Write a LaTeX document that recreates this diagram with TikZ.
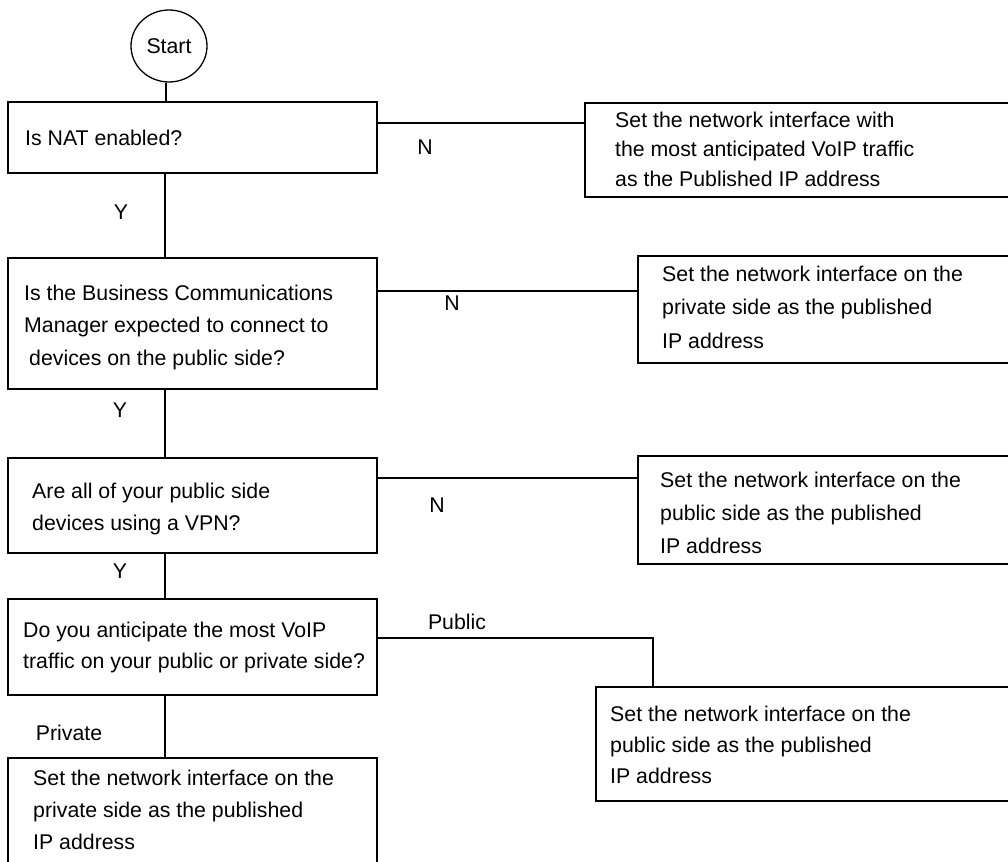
\documentclass[tikz,border=0pt]{standalone}
\usepackage{fontspec}
\setmainfont{Liberation Sans}
\usetikzlibrary{shapes.geometric}
\begin{document}
\begin{tikzpicture}[x=1pt,y=-1pt,
  box/.style={draw, line width=2.3pt, rectangle, inner sep=0pt},
  txt/.style={anchor=west, align=left, inner sep=0pt, font=\fontsize{21.3}{32}\selectfont},
  lbl/.style={inner sep=0pt, font=\fontsize{21.3}{25}\selectfont},
  link/.style={line width=2.3pt}]
\useasboundingbox (0,0) rectangle (1008,861);
\clip (0,0) rectangle (1008,861);

% start terminal
\node[draw, line width=1.3pt, ellipse, minimum width=76pt, minimum height=72pt, inner sep=0pt,
      font=\fontsize{21.3}{25}\selectfont] (start) at (169,46) {Start};

% decision boxes on the left
\node[box, minimum width=369pt, minimum height=71pt]  (b1) at (192.5,137.5) {};
\node[box, minimum width=369pt, minimum height=131pt] (b2) at (192.5,323.5) {};
\node[box, minimum width=369pt, minimum height=95pt]  (b3) at (192.5,505.5) {};
\node[box, minimum width=369pt, minimum height=96pt]  (b4) at (192.5,647) {};
\node[box, minimum width=369pt, minimum height=122pt] (b5) at (192.5,819) {};

% outcome boxes on the right
\node[box, minimum width=445pt, minimum height=94pt]  (r1) at (807.5,150) {};
\node[box, minimum width=392pt, minimum height=107pt] (r2) at (834,309.5) {};
\node[box, minimum width=392pt, minimum height=108pt] (r3) at (834,510) {};
\node[box, minimum width=434pt, minimum height=114pt] (r4) at (813,744) {};

% box texts
\node[txt] (t1) at (25,138) {Is NAT enabled?};
\node[txt, font=\fontsize{21.3}{32.5}\selectfont] (t2) at (24,327)
  {Is the Business Communications\\Manager expected to connect to\\\hspace{5pt}devices on the public side?};
\node[txt] (t3) at (32,509) {Are all of your public side\\devices using a VPN?};
\node[txt, font=\fontsize{21.3}{31}\selectfont] (t4) at (23,647)
  {Do you anticipate the most VoIP\\traffic on your public or private side?};
\node[txt, font=\fontsize{21.3}{32}\selectfont] (t5) at (33,810)
  {Set the network interface on the\\private side as the published\\IP address};

\node[txt, font=\fontsize{21.3}{29.5}\selectfont] (tr1) at (615,149)
  {Set the network interface with\\the most anticipated VoIP traffic\\as the Published IP address};
\node[txt, font=\fontsize{21.3}{33.5}\selectfont] (tr2) at (662,307)
  {Set the network interface on the\\private side as the published\\IP address};
\node[txt, font=\fontsize{21.3}{33}\selectfont] (tr3) at (660,513)
  {Set the network interface on the\\public side as the published\\IP address};
\node[txt, font=\fontsize{21.3}{31}\selectfont] (tr4) at (610,745)
  {Set the network interface on the\\public side as the published\\IP address};

% main spine
\draw[link] (start.265) -- (start.265 |- b1.north);
\draw[link] (b1.south -| 165,0) -- (b2.north -| 165,0);
\draw[link] (b2.south -| 165,0) -- (b3.north -| 165,0);
\draw[link] (b3.south -| 165,0) -- (b4.north -| 165,0);
\draw[link] (b4.south -| 165,0) -- (b5.north -| 165,0);

% branches to the right
\draw[link] (b1.east |- 0,123) -- (r1.west |- 0,123);
\draw[link] (b2.east |- 0,291) -- (r2.west |- 0,291);
\draw[link] (b3.east |- 0,478) -- (r3.west |- 0,478);
\draw[link] (b4.east |- 0,638) -| (r4.north -| 653,0);

% branch labels
\node[lbl] (n1) at (425,147) {N};
\node[lbl] (n2) at (452,303) {N};
\node[lbl] (n3) at (437,505) {N};
\node[lbl] (y1) at (121,212) {Y};
\node[lbl] (y2) at (120,410) {Y};
\node[lbl] (y3) at (120,571) {Y};
\node[lbl] (pub) at (457,622) {Public};
\node[lbl] (priv) at (69,733) {Private};
\end{tikzpicture}
\end{document}
